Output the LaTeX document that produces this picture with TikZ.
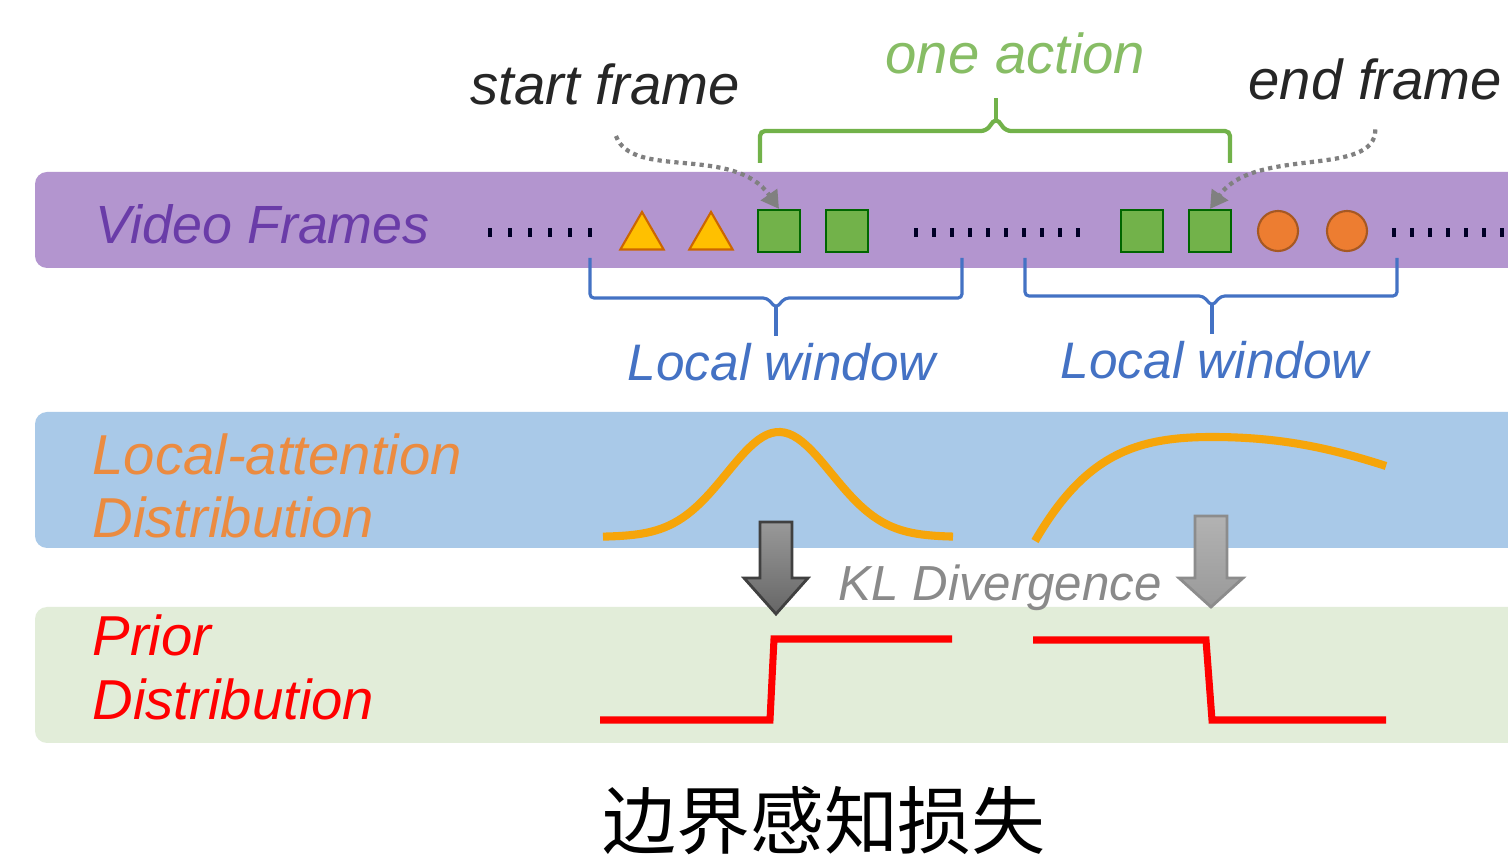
\documentclass[tikz,border=0pt]{standalone}
\usepackage{fontspec}
\setsansfont{Liberation Sans}
\newfontfamily\cjk{Noto Sans CJK SC}
\usetikzlibrary{shapes.geometric,arrows.meta}
\definecolor{bandpurple}{HTML}{B395CF}
\definecolor{bandblue}{HTML}{A9C9E8}
\definecolor{bandgreen}{HTML}{E2EDD9}
\definecolor{txtpurple}{HTML}{6A3CA8}
\definecolor{txtorange}{HTML}{EB8B40}
\definecolor{curveorange}{HTML}{F6A50A}
\definecolor{winblue}{HTML}{4472C4}
\definecolor{actgreen}{HTML}{72B24A}
\definecolor{kgray}{HTML}{8A8A8A}
\definecolor{frameorange}{HTML}{ED7D31}
\definecolor{frameyellow}{HTML}{FFC000}
\begin{document}
\begin{tikzpicture}[x=0.01cm, y=-0.01cm,
        lbl/.style={font=\sffamily\itshape\fontsize{16}{19}\selectfont,
            anchor=base west, inner sep=0pt},
        tri/.style={regular polygon, regular polygon sides=3, inner sep=0pt,
            minimum size=0.5cm, fill=frameyellow, draw=orange!80!black, line width=0.6pt},
        sq/.style={rectangle, inner sep=0pt, minimum size=0.42cm,
            fill=actgreen, draw=green!40!black, line width=0.6pt},
        dotc/.style={circle, inner sep=0pt, minimum size=0.4cm,
            fill=frameorange, draw=frameorange!70!black, line width=0.6pt},
        pointer/.style={gray, line width=1.2pt, dash pattern=on 1.2pt off 1.2pt,
            -{Triangle[length=5pt,width=5.5pt]}},
        winbrace/.style={winblue, line width=0.9pt, rounded corners=0.04cm},
        klarrow/.style={line width=0.8pt}]
	\clip (0,0) rectangle (1508,858);
	\fill[white] (0,0) rectangle (1508,858);
	% bands
	\fill[bandpurple, rounded corners=0.12cm] (35,172) rectangle (1560,268);
	\fill[bandblue, rounded corners=0.12cm] (35,412) rectangle (1560,548);
	\fill[bandgreen, rounded corners=0.12cm] (35,607) rectangle (1560,743);

	\node[lbl, txtpurple, font=\sffamily\itshape\fontsize{15.3}{18}\selectfont] (vf) at (95,244) {Video Frames};
	\node[lbl, txtorange] (la) at (92,475) {Local-attention};
	\node[lbl, txtorange] (ld) at (92,538) {Distribution};
	\node[lbl, red] (pr) at (92,656) {Prior};
	\node[lbl, red] (pd) at (92,720) {Distribution};

	% frames
	\foreach \x in {490,510,...,592} \fill[black!85!blue] (\x-1.6,228) rectangle (\x+1.6,237);
	\foreach \x in {916,934,...,1078} \fill[black!85!blue] (\x-1.6,228) rectangle (\x+1.6,237);
	\foreach \x in {1394,1412,...,1502} \fill[black!85!blue] (\x-1.6,228) rectangle (\x+1.6,237);
	\node[tri] (t1) at (642,237) {};
	\node[tri] (t2) at (711,237) {};
	\node[sq] (s1) at (779,231) {};
	\node[sq] (s2) at (847,231) {};
	\node[sq] (s3) at (1142,231) {};
	\node[sq] (s4) at (1210,231) {};
	\node[dotc] (c1) at (1278,231) {};
	\node[dotc] (c2) at (1347,231) {};

	\node[lbl, black!85] (sf) at (470,105) {start frame};
	\node[lbl, black!85] (ef) at (1248,100) {end frame};
	\node[lbl, actgreen!85!white] (oa) at (885,74) {one action};
	\draw[pointer, shorten <=9pt] (sf.south) to[out=-70, in=125] (s1.north);
	\draw[pointer, shorten <=8pt] (ef.south) to[out=-90, in=55] (s4.north);

	% one action bracket
	\draw[actgreen, line width=1.2pt, rounded corners=0.05cm]
	    (760,163) |- (986,131) -- (996,118) -- (1006,131) -| (1230,163);
	\draw[actgreen, line width=1.2pt] (996,121) -- (996,98);

	% local windows
	\draw[winbrace] (590,258) |- (767,298) -- (776,308) -- (785,298) -| (962,258);
	\draw[winbrace] (776,306) -- (776,336);
	\draw[winbrace] (1025,258) |- (1203,296) -- (1212,306) -- (1221,296) -| (1397,258);
	\draw[winbrace] (1212,304) -- (1212,334);
	\node[lbl, winblue, font=\sffamily\itshape\fontsize{14.6}{17}\selectfont] (lw1) at (627,381) {Local window};
	\node[lbl, winblue, font=\sffamily\itshape\fontsize{14.6}{17}\selectfont] (lw2) at (1060,379) {Local window};

	% attention curves
	\draw[curveorange, line width=2.3pt, samples=80, domain=603:953]
	    plot (\x, {537-105*exp(-((\x-779)/74)^2)});
	\draw[curveorange, line width=2.3pt] (1035,541) .. controls (1085,455) and (1135,437) .. (1212,437)
	    .. controls (1280,437) and (1330,448) .. (1386,466);

	% kl arrows
	\draw[klarrow, draw=black!75, top color=black!40, bottom color=black!60]
	    (760,522) -- (792,522) -- (792,578) -- (808,578) -- (776,614) -- (744,578) -- (760,578) -- cycle;
	\draw[klarrow, draw=black!45, top color=black!30, bottom color=black!40]
	    (1195,516) -- (1227,516) -- (1227,578) -- (1243,578) -- (1211,607) -- (1179,578) -- (1195,578) -- cycle;
	\node[lbl, kgray, font=\sffamily\itshape\fontsize{14}{17}\selectfont] (kl) at (838,601) {KL Divergence};

	% prior steps
	\draw[red, line width=2pt] (600,720) -- (770,720) -- (774,639) -- (952,639);
	\draw[red, line width=2pt] (1033,640) -- (1206,640) -- (1212,720) -- (1386,720);

	\node[font=\cjk\fontsize{21}{24}\selectfont] (title) at (824,821) {边界感知损失};
\end{tikzpicture}
\end{document}
